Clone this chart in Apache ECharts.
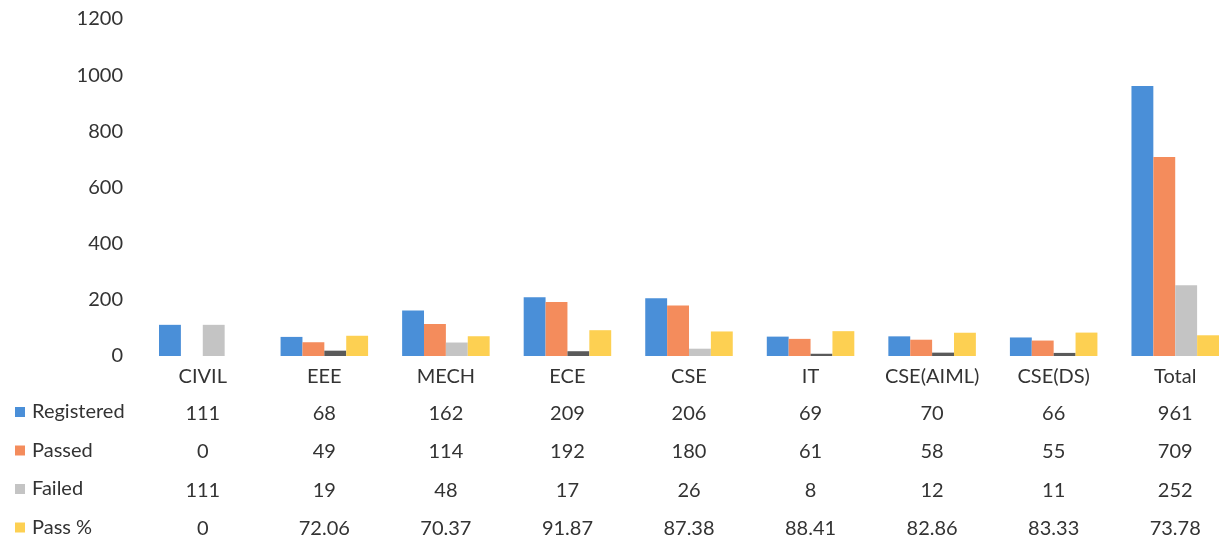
<!DOCTYPE html>
<html>
<head>
<meta charset="utf-8">
<script src="https://cdn.jsdelivr.net/npm/echarts@6/dist/echarts.min.js"></script>
<style>
  html, body { margin: 0; padding: 0; background: #fff; }
  #chart { width: 1224px; height: 542px; }
</style>
</head>
<body>
<div id="chart"></div>
<script>
var categories = ['CIVIL', 'EEE', 'MECH', 'ECE', 'CSE', 'IT', 'CSE(AIML)', 'CSE(DS)', 'Total'];
var registered = [111, 68, 162, 209, 206, 69, 70, 66, 961];
var passed = [0, 49, 114, 192, 180, 61, 58, 55, 709];
var failed = [111, 19, 48, 17, 26, 8, 12, 11, 252];
var passPct = ['0', '72.06', '70.37', '91.87', '87.38', '88.41', '82.86', '83.33', '73.78'];
var yTicks = [0, 200, 400, 600, 800, 1000, 1200];

var seriesNames = ['Registered', 'Passed', 'Failed', 'Pass %'];
var colors = ['#4A8FD8', '#F48C5C', '#C4C4C4', '#FDD052'];
var rows = [registered, passed, failed, passPct];

var font = 'Lato, "Open Sans", sans-serif';
var txt = '#333333';
var rowH = 38.5;
var fs = 20;

// table rows drawn as extra category axes under the plot
var xAxes = [{
  type: 'category',
  data: categories,
  axisLine: { show: false },
  axisTick: { show: false },
  axisLabel: { margin: 11, fontSize: fs, color: txt, fontFamily: font, interval: 0 }
}];
rows.forEach(function (r, i) {
  xAxes.push({
    type: 'category',
    position: 'bottom',
    offset: rowH * (i + 1),
    data: r.map(String),
    axisLine: { show: false },
    axisTick: { show: false },
    axisLabel: { margin: 9, fontSize: fs, color: txt, fontFamily: font, interval: 0 }
  });
});

var chart = echarts.init(document.getElementById('chart'));
chart.setOption({
  animation: false,
  color: colors,
  grid: { left: 142, right: -12, top: 19, bottom: 186, outerBoundsMode: 'none' },
  legend: {
    orient: 'vertical',
    left: 15,
    top: 402,
    padding: 0,
    itemWidth: 10,
    itemHeight: 10,
    itemGap: 18.5,
    icon: 'rect',
    textStyle: { fontSize: fs, lineHeight: 20, color: txt, fontFamily: font, padding: [0, 0, 0, 2] },
    data: seriesNames
  },
  xAxis: xAxes,
  yAxis: {
    type: 'value',
    min: yTicks[0],
    max: yTicks[yTicks.length - 1],
    interval: 200,
    axisLine: { show: false },
    axisTick: { show: false },
    splitLine: { show: false },
    axisLabel: {
      margin: 19, fontSize: fs, color: txt, fontFamily: font,
      formatter: function (v) { return String(v); }
    }
  },
  series: rows.map(function (r, i) {
    return {
      name: seriesNames[i],
      type: 'bar',
      xAxisIndex: 0,
      data: r.map(Number),
      barGap: '0%',
      barCategoryGap: '28%',
      itemStyle: i === 2 ? {
        // the short grey bars print dark in the scan
        color: function (p) { return p.value < 20 ? '#5a5a5a' : colors[2]; }
      } : undefined
    };
  })
});
</script>
</body>
</html>
